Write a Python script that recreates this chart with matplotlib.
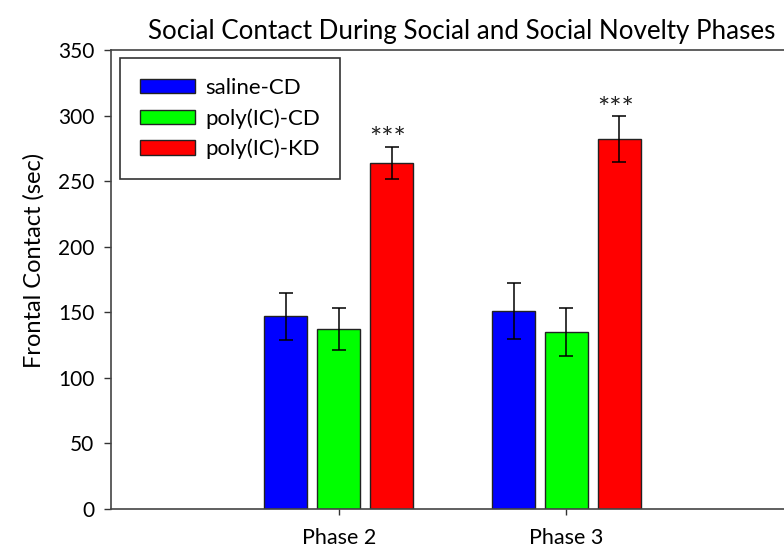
import matplotlib.pyplot as plt
import numpy as np

plt.rcParams['font.family'] = ['Lato', 'DejaVu Sans']

# data
phases = ['Phase 2', 'Phase 3']
groups = ['saline-CD', 'poly(IC)-CD', 'poly(IC)-KD']
colors = ['#0000ff', '#00ff00', '#ff0000']
means = [[147, 151], [137, 135], [264, 282]]
errors = [[18, 21], [16, 18.5], [12, 17.5]]
stars = ['', '', '***']

fig = plt.figure(figsize=(7.84, 5.52), dpi=100)
ax = fig.add_axes([0.1416, 0.0779, 0.8712, 0.8315])

x = np.arange(len(phases))
width = 0.189
step = 0.232
for i, g in enumerate(groups):
    pos = x + (i - 1) * step
    ax.bar(pos, means[i], width, color=colors[i], edgecolor='#222222',
           linewidth=1.0, label=g, zorder=2)
    ax.errorbar(pos, means[i], yerr=errors[i], fmt='none', ecolor='black',
                elinewidth=1.1, capsize=5, capthick=1.1, zorder=3)
    if stars[i]:
        for p, m, e in zip(pos, means[i], errors[i]):
            ax.text(p - 0.015, m + e + 5, stars[i], ha='center', va='center',
                    fontsize=21, color='#222222')

ax.set_xlim(-1, 2)
ax.set_ylim(0, 350)
ax.set_yticks(range(0, 351, 50))
ax.set_xticks(x, labels=phases)
ax.tick_params(axis='both', direction='out', width=1, color='#333333')
ax.tick_params(axis='y', labelsize=15, length=5, pad=7)
ax.tick_params(axis='x', labelsize=15.5, length=4, pad=10)
for s in ax.spines.values():
    s.set_color('#444444')
    s.set_linewidth(1.2)

ax.set_ylabel('Frontal Contact (sec)', fontsize=17)
ax.yaxis.set_label_coords(-0.097, 0.5425)
ax.set_title('Social Contact During Social and Social Novelty Phases', fontsize=18.7,
             pad=8, x=0.513)

leg = ax.legend(loc='upper left', bbox_to_anchor=(120 / 784, 1 - 58 / 552),
                bbox_transform=fig.transFigure, fontsize=16, frameon=True,
                fancybox=False, edgecolor='black', handlelength=2.48,
                handleheight=0.63, labelspacing=0.45, borderpad=0.9,
                handletextpad=0.45, borderaxespad=0)
leg.get_frame().set_linewidth(1.2)

fig.savefig('out.png', dpi=100)
